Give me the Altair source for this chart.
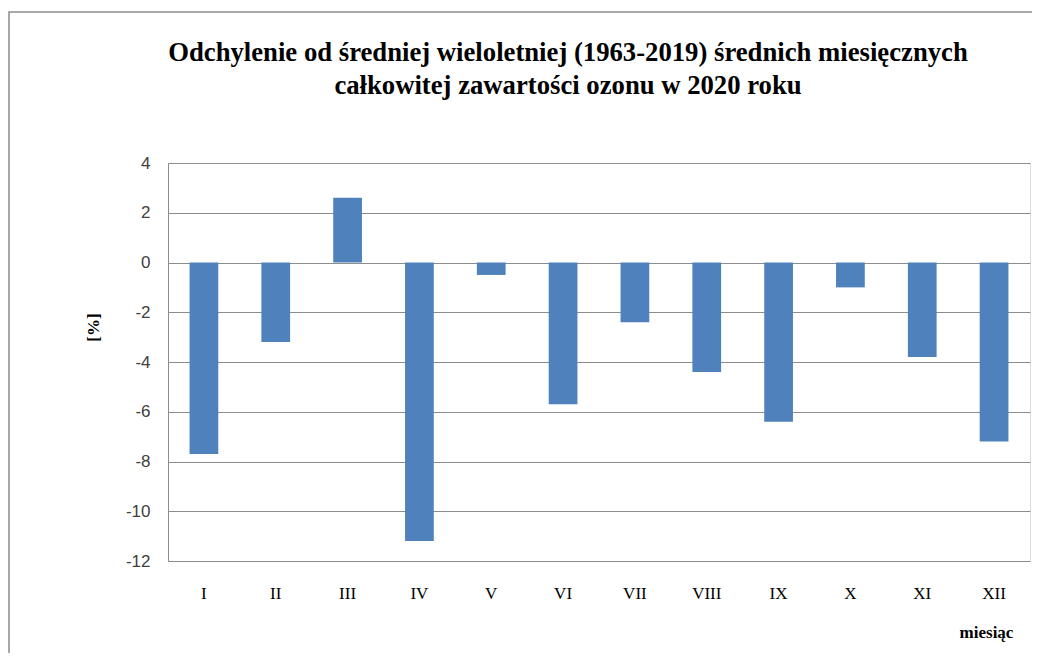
import altair as alt
import pandas as pd

months = ["I", "II", "III", "IV", "V", "VI", "VII", "VIII", "IX", "X", "XI", "XII"]
values = [-7.7, -3.2, 2.6, -11.2, -0.5, -5.7, -2.4, -4.4, -6.4, -1.0, -3.8, -7.2]
y_ticks = [-12, -10, -8, -6, -4, -2, 0, 2, 4]

df = pd.DataFrame({"miesiac": months, "odchylenie": values})

PLOT_W = 862
PLOT_H = 398

frame = alt.Chart(pd.DataFrame({"a": [0]})).mark_rect(
    fill=None, stroke="#8c8c8c", strokeWidth=1.5, clip=False
).encode(
    x=alt.value(-159), x2=alt.value(PLOT_W + 60),
    y=alt.value(-151), y2=alt.value(PLOT_H + 160),
)

bars = alt.Chart(df).mark_bar(color="#4F81BD").encode(
    x=alt.X(
        "miesiac:N",
        sort=months,
        scale=alt.Scale(paddingInner=0.6, paddingOuter=0.3),
        axis=alt.Axis(
            title="miesiąc",
            labelAngle=0,
            labelFont="Liberation Serif",
            labelFontSize=17,
            labelColor="#000000",
            labelPadding=24,
            ticks=False,
            domain=False,
            titleFont="Liberation Serif",
            titleFontSize=17,
            titleFontWeight="bold",
            titleColor="#000000",
            titleX=818,
            titleY=71,
            titleAlign="center",
            titleBaseline="middle",
        ),
    ),
    y=alt.Y(
        "odchylenie:Q",
        scale=alt.Scale(domain=[-12, 4], nice=False),
        axis=alt.Axis(
            title="[%]",
            values=y_ticks,
            labelExpr="toString(datum.value)",
            labelFont="Liberation Sans",
            labelFontSize=17,
            labelColor="#404040",
            labelPadding=18,
            ticks=False,
            grid=True,
            gridColor="#8c8c8c",
            gridWidth=1,
            domain=True,
            domainColor="#8c8c8c",
            titleFont="Liberation Serif",
            titleFontSize=17,
            titleFontWeight="bold",
            titleColor="#000000",
            titleX=-75,
            titleY=164,
            titleAlign="center",
            titleBaseline="middle",
        ),
    ),
)

chart = alt.layer(frame, bars).properties(
    width=PLOT_W,
    height=PLOT_H,
    padding={"left": 160, "top": 155, "right": 2, "bottom": 92},
    autosize=alt.AutoSizeParams(type="none"),
    title=alt.TitleParams(
        text=["Odchylenie od średniej wieloletniej (1963-2019) średnich miesięcznych",
              "całkowitej zawartości ozonu w 2020 roku"],
        font="Liberation Serif",
        fontSize=26.7,
        fontWeight="bold",
        color="#000000",
        anchor="middle",
        dx=-31,
        offset=-88,
        lineHeight=33,
    ),
).configure_view(stroke=None).configure(background="#ffffff")

chart.save("out.html", embed_options={"renderer": "svg", "actions": False})
